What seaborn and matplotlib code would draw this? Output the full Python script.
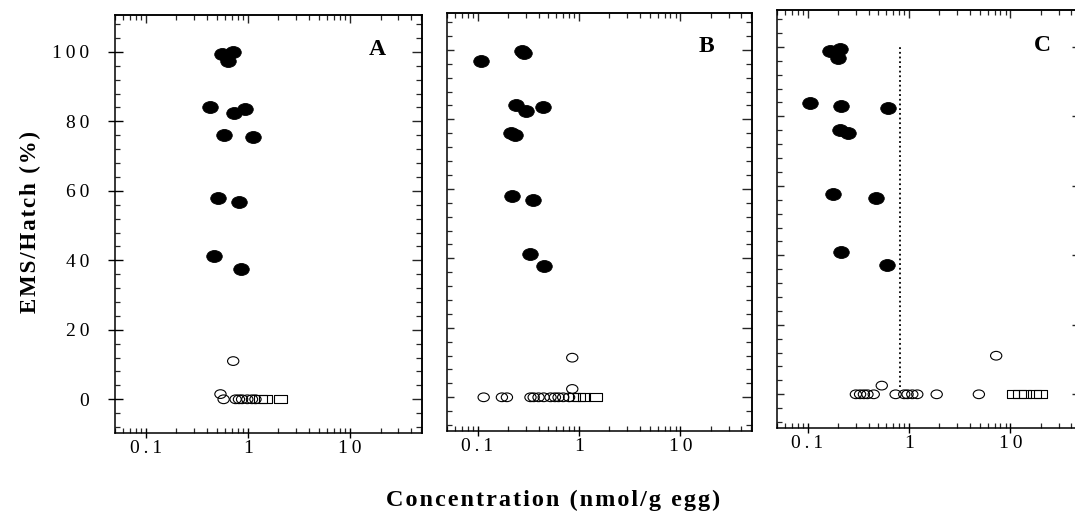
import numpy as np
import pandas as pd
import matplotlib
matplotlib.use("Agg")
import matplotlib.pyplot as plt
import seaborn as sns
from matplotlib.path import Path
from matplotlib.transforms import Affine2D
from matplotlib.ticker import MultipleLocator, FuncFormatter, NullFormatter, FixedLocator

# ---------------- data ----------------
panel_names = ["A", "B", "C"]

A_filled_x = [0.56, 0.72, 0.64, 0.43, 0.73, 0.93, 0.59, 1.13, 0.51, 0.82, 0.47, 0.85]
A_filled_y = [99.5, 100.0, 97.3, 84.2, 82.5, 83.6, 76.1, 75.6, 57.8, 56.7, 41.2, 37.5]
A_open_x = [0.72, 0.54, 0.58, 0.76, 0.82, 0.88, 0.99, 1.10, 1.19]
A_open_y = [11.0, 1.5, 0, 0, 0, 0, 0, 0, 0]
A_square_x = [1.33, 1.49, 2.09]
A_square_y = [0, 0, 0]

B_filled_x = [0.109, 0.275, 0.29, 0.237, 0.30, 0.44, 0.216, 0.233, 0.22, 0.356, 0.333, 0.45]
B_filled_y = [96.9, 99.7, 99.0, 84.2, 82.5, 83.5, 76.0, 75.5, 57.9, 56.8, 41.3, 37.7]
B_open_x = [0.86, 0.86, 0.115, 0.174, 0.195, 0.333, 0.358, 0.40, 0.45, 0.525, 0.58, 0.63, 0.70, 0.80]
B_open_y = [11.4, 2.4, 0, 0, 0, 0, 0, 0, 0, 0, 0, 0, 0, 0]
B_square_x = [0.89, 1.0, 1.12, 1.46]
B_square_y = [0, 0, 0, 0]

C_filled_x = [0.168, 0.211, 0.20, 0.107, 0.214, 0.625, 0.21, 0.252, 0.177, 0.471, 0.215, 0.607]
C_filled_y = [98.9, 99.5, 96.9, 83.8, 83.1, 82.3, 76.1, 75.3, 57.7, 56.6, 41.0, 37.3]
C_open_x = [7.26, 0.54, 0.30, 0.33, 0.36, 0.39, 0.45, 0.74, 0.90, 0.97, 1.08, 1.21, 1.88, 4.9]
C_open_y = [11.1, 2.5, 0, 0, 0, 0, 0, 0, 0, 0, 0, 0, 0, 0]
C_square_x = [10.6, 12.3, 14.0, 17.3, 19.8]
C_square_y = [0, 0, 0, 0, 0]
C_threshold_x = 0.82
C_threshold_y = [2.0, 100.0]

y_ticks = [0, 20, 40, 60, 80, 100]
x_ticks = [0.1, 1, 10]
x_tick_labels = ["0.1", "1", "10"]
y_label = "EMS/Hatch (%)"
x_label = "Concentration (nmol/g egg)"

panels = {
    "A": (A_filled_x, A_filled_y, A_open_x, A_open_y, A_square_x, A_square_y),
    "B": (B_filled_x, B_filled_y, B_open_x, B_open_y, B_square_x, B_square_y),
    "C": (C_filled_x, C_filled_y, C_open_x, C_open_y, C_square_x, C_square_y),
}

# ---------------- style ----------------
sns.set_theme(style="white")
plt.rcParams['font.family'] = ['Liberation Serif', 'DejaVu Serif']
plt.rcParams['axes.linewidth'] = 1.1
plt.rcParams['axes.edgecolor'] = 'black'

THIN = "\u2009"
HAIR = "\u200a"


def spaced(s, sp=THIN):
    return sp.join(list(s))


ELLIPSE = Affine2D().scale(1.3, 1.0).transform_path(Path.unit_circle())
RECT = Path([(-0.75, -0.5), (0.75, -0.5), (0.75, 0.5), (-0.75, 0.5), (-0.75, -0.5)],
            [Path.MOVETO, Path.LINETO, Path.LINETO, Path.LINETO, Path.CLOSEPOLY])

W, H = 1075, 516
fig = plt.figure(figsize=(W / 100, H / 100), dpi=100)

# axes boxes in pixels: left, right, top, bottom
boxes = {"A": (115, 422, 15, 433), "B": (447, 752, 13, 431), "C": (777, 1082, 10, 428)}
label_pos = {"A": (0.855, 0.917), "B": (0.852, 0.919), "C": (0.869, 0.916)}

xfmt = FuncFormatter(lambda v, p: spaced(x_tick_labels[x_ticks.index(v)]) if v in x_ticks else "")
yfmt = FuncFormatter(lambda v, p: spaced(f"{int(round(v))}"))

for name in panel_names:
    l, r, t, b = boxes[name]
    ax = fig.add_axes([l / W, (H - b) / H, (r - l) / W, (b - t) / H])
    fx, fy, ox, oy, sx, sy = panels[name]

    sns.scatterplot(x=fx, y=fy, ax=ax, marker=ELLIPSE, s=125, color="black",
                    edgecolor="black", linewidth=0.6, legend=False, zorder=3)
    sns.scatterplot(x=ox, y=oy, ax=ax, marker=ELLIPSE, s=66, facecolor="none",
                    edgecolor="black", linewidth=0.8, legend=False, zorder=3)
    sns.scatterplot(x=sx, y=sy, ax=ax, marker=RECT, s=80, facecolor="none",
                    edgecolor="black", linewidth=0.8, legend=False, zorder=3)
    if name == "C":
        ax.plot([C_threshold_x, C_threshold_x], C_threshold_y, color="black",
                linestyle=(0, (1.0, 1.6)), linewidth=1.3, zorder=2)

    ax.set_xscale("log")
    ax.set_xlim(0.05, 51)
    ax.set_ylim(-9.7, 110.6)
    ax.set_xlabel("")
    ax.set_ylabel("")
    ax.grid(False)
    for sp in ax.spines.values():
        sp.set_color("black")
        sp.set_linewidth(1.1)

    ax.xaxis.set_major_locator(FixedLocator(x_ticks))
    ax.xaxis.set_major_formatter(xfmt)
    ax.xaxis.set_minor_formatter(NullFormatter())
    ax.yaxis.set_major_locator(FixedLocator(y_ticks))
    ax.yaxis.set_minor_locator(MultipleLocator(4))
    ax.yaxis.set_major_formatter(yfmt)

    ax.tick_params(axis="x", which="major", direction="inout", length=7.2, width=1.0,
                   bottom=True, top=False, labelsize=14, pad=1.5, colors="black")
    ax.tick_params(axis="x", which="minor", direction="in", length=3.6, width=0.9,
                   bottom=True, top=False)
    if name == "A":
        ax.tick_params(axis="y", which="major", direction="inout", length=10.8, width=1.0,
                       left=True, right=False, labelsize=14, pad=13, colors="black")
    else:
        ax.tick_params(axis="y", which="major", direction="in", length=5.0, width=1.0,
                       left=True, right=False, labelleft=False)
    ax.tick_params(axis="y", which="minor", direction="in", length=3.6, width=0.9,
                   left=True, right=False)

    top = ax.secondary_xaxis("top")
    top.xaxis.set_major_locator(FixedLocator(x_ticks))
    top.xaxis.set_major_formatter(NullFormatter())
    top.xaxis.set_minor_formatter(NullFormatter())
    top.tick_params(which="major", direction="in", length=5.8, width=1.0, labeltop=False)
    top.tick_params(which="minor", direction="in", length=3.6, width=0.9)
    top.spines["top"].set_linewidth(1.1)

    right = ax.secondary_yaxis("right")
    right.yaxis.set_major_locator(FixedLocator(y_ticks))
    right.yaxis.set_minor_locator(MultipleLocator(4))
    right.yaxis.set_major_formatter(NullFormatter())
    right.tick_params(which="major", direction="in", length=7.2, width=1.0, labelright=False)
    right.tick_params(which="minor", direction="in", length=4.3, width=0.9)
    right.spines["right"].set_linewidth(1.1)

    lx, ly = label_pos[name]
    ax.text(lx, ly, name, transform=ax.transAxes, ha="center", va="center",
            fontsize=17, fontweight="bold", color="black")

fig.text(30 / W, 1 - 222 / H, spaced(y_label, HAIR), rotation=90, ha="center", va="center",
         fontsize=16.5, fontweight="bold", color="black")
fig.text(553 / W, 1 - 500 / H, spaced(x_label, HAIR), ha="center", va="center",
         fontsize=17.5, fontweight="bold", color="black")

fig.savefig("out.png", dpi=100, facecolor="white")
